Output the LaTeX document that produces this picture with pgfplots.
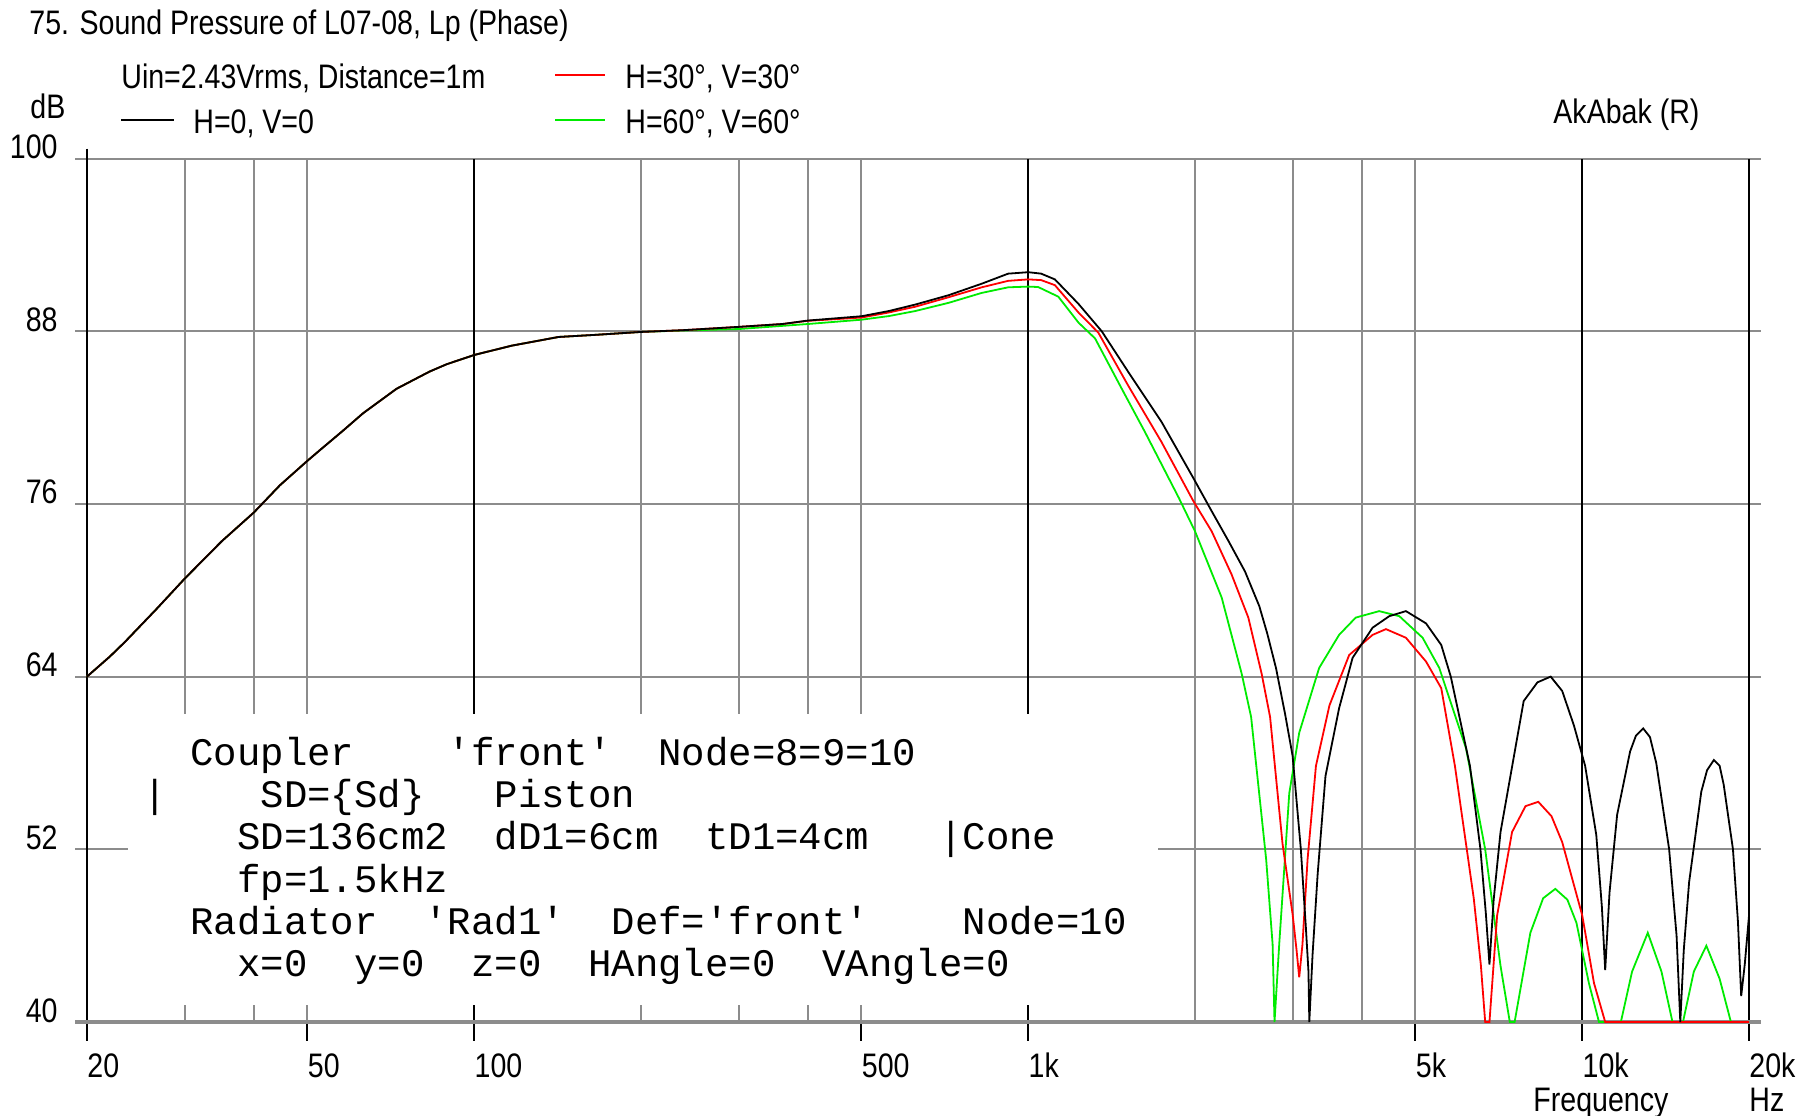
\documentclass[border=0pt]{standalone}
\usepackage{fontspec}
\setmainfont{Liberation Sans}[FakeStretch=0.84]
\setmonofont{Liberation Mono}
\usepackage{pgfplots}
\pgfplotsset{compat=1.18}

\definecolor{gridgray}{RGB}{140,140,140}
\definecolor{curvered}{RGB}{255,0,0}
\definecolor{curvegreen}{RGB}{0,235,0}

\newcommand\sanssz{\fontsize{17pt}{20pt}\selectfont}
\newcommand\monosz{\ttfamily\fontsize{19.5pt}{21pt}\selectfont}
% one word of the model listing: column, line, text
\newcommand\mt[3]{\node[anchor=base west, inner sep=0pt, font=\monosz] at ({190+23.4*#1},{349.5-42.2*#2}) {#3};}

\begin{document}
\sanssz
\begin{tikzpicture}
\path[use as bounding box] (0,0) rectangle (907pt,557.5pt);

\begin{axis}[
  at={(43.5pt,46.5pt)}, anchor=south west,
  scale only axis, width=831pt, height=431.75pt,
  xmode=log, log basis x=10,
  xmin=20, xmax=20000, ymin=40, ymax=100,
  axis line style={draw=none},
  tick style={draw=none}, major tick length=0pt, minor tick length=0pt,
  xtick={20,50,100,500,1000,5000,10000,20000},
  xticklabels={20,50,100,500,1k,5k,10k,20k},
  ytick={40,52,64,76,88,100},
  yticklabels={40,52,64,76,88,100},
  xticklabel style={anchor=base west, inner sep=0pt, yshift=-27.5pt},
  yticklabel style={anchor=base east, inner sep=0pt, xshift=-14.5pt},
  every tick label/.append style={font=\sanssz},
  clip=false,
]
% horizontal grid
\draw[gridgray, line width=1pt] (axis cs:19.03,100) -- (axis cs:21030,100);
\draw[gridgray, line width=1pt] (axis cs:19.03,88) -- (axis cs:21030,88);
\draw[gridgray, line width=1pt] (axis cs:19.03,76) -- (axis cs:21030,76);
\draw[gridgray, line width=1pt] (axis cs:19.03,64) -- (axis cs:21030,64);
\draw[gridgray, line width=1pt] (axis cs:19.03,52) -- (axis cs:21030,52);
% vertical minor grid
\draw[gridgray, line width=1pt] (axis cs:30,40) -- (axis cs:30,100);
\draw[gridgray, line width=1pt] (axis cs:40,40) -- (axis cs:40,100);
\draw[gridgray, line width=1pt] (axis cs:50,40) -- (axis cs:50,100);
\draw[gridgray, line width=1pt] (axis cs:200,40) -- (axis cs:200,100);
\draw[gridgray, line width=1pt] (axis cs:300,40) -- (axis cs:300,100);
\draw[gridgray, line width=1pt] (axis cs:400,40) -- (axis cs:400,100);
\draw[gridgray, line width=1pt] (axis cs:500,40) -- (axis cs:500,100);
\draw[gridgray, line width=1pt] (axis cs:2000,40) -- (axis cs:2000,100);
\draw[gridgray, line width=1pt] (axis cs:3000,40) -- (axis cs:3000,100);
\draw[gridgray, line width=1pt] (axis cs:4000,40) -- (axis cs:4000,100);
\draw[gridgray, line width=1pt] (axis cs:5000,40) -- (axis cs:5000,100);
% decade lines
\draw[black, line width=1pt] (axis cs:100,40) -- (axis cs:100,100);
\draw[black, line width=1pt] (axis cs:1000,40) -- (axis cs:1000,100);
\draw[black, line width=1pt] (axis cs:10000,40) -- (axis cs:10000,100);
\draw[black, line width=1pt] (axis cs:20000,40) -- (axis cs:20000,100);
% left axis line and ticks under the baseline
\draw[black, line width=1pt] ([yshift=5pt]axis cs:20,100) -- ([yshift=-9.5pt]axis cs:20,40);
\draw[black, line width=1pt] (axis cs:50,40) -- ([yshift=-9.5pt]axis cs:50,40);
\draw[black, line width=1pt] (axis cs:100,40) -- ([yshift=-9.5pt]axis cs:100,40);
\draw[black, line width=1pt] (axis cs:500,40) -- ([yshift=-9.5pt]axis cs:500,40);
\draw[black, line width=1pt] (axis cs:1000,40) -- ([yshift=-9.5pt]axis cs:1000,40);
\draw[black, line width=1pt] (axis cs:5000,40) -- ([yshift=-9.5pt]axis cs:5000,40);
\draw[black, line width=1pt] (axis cs:10000,40) -- ([yshift=-9.5pt]axis cs:10000,40);
\draw[black, line width=1pt] (axis cs:20000,40) -- ([yshift=-9.5pt]axis cs:20000,40);
% baseline
\draw[gridgray, line width=1.6pt] (axis cs:19.03,40) -- (axis cs:21030,40);

% H=60, V=60
\addplot[curvegreen, line width=0.9pt] table {
20 64.0
22 65.4
23.4 66.4
26.7 68.7
30 70.8
35 73.4
40 75.4
44.6 77.3
50 79.0
52.7 79.75
58 81.1
63 82.3
72.4 84.0
83.1 85.2
89.1 85.7
100 86.35
117 87.0
142 87.6
166 87.75
200 87.95
238 88.05
300 88.15
400 88.5
500 88.8
560 89.05
625 89.4
718 89.97
824 90.66
920 91.05
1000 91.1
1042 91.07
1133 90.4
1232 88.6
1320 87.5
1475 84.0
1624 81.0
1871 76.4
2000 74.1
2234 69.5
2428 64.2
2525 61.2
2688 51.3
2761 45.4
2783 40.0
2838 45.4
2959 55.9
3084 60.1
3350 64.6
3640 66.9
3901 68.1
4300 68.55
4675 68.2
5150 66.7
5520 64.6
6170 59.0
6680 52.0
7120 43.9
7400 40.0
7550 40.0
8060 46.2
8500 48.6
8940 49.25
9400 48.5
9760 46.9
10280 42.7
10720 40.0
11740 40.0
12300 43.5
13130 46.2
13900 43.5
14550 40.0
15200 40.0
15900 43.5
16750 45.3
17700 43.0
18550 40.0
20000 40.0
};

% H=30, V=30
\addplot[curvered, line width=0.9pt] table {
20 64.0
22 65.4
23.4 66.4
26.7 68.7
30 70.8
35 73.4
40 75.4
44.6 77.3
50 79.0
52.7 79.75
58 81.1
63 82.3
72.4 84.0
83.1 85.2
89.1 85.7
100 86.35
117 87.0
142 87.6
166 87.75
200 87.95
238 88.07
300 88.3
360 88.5
400 88.72
500 88.95
560 89.3
625 89.7
718 90.36
824 91.05
920 91.5
1000 91.6
1055 91.55
1117 91.2
1232 89.3
1338 87.9
1516 84.2
1740 80.3
1986 76.2
2143 74.1
2328 71.1
2496 68.1
2638 64.2
2732 61.2
2877 52.4
3000 47.5
3050 45.0
3084 43.1
3126 45.4
3193 51.3
3306 57.8
3497 62.0
3796 65.5
4184 66.9
4422 67.3
4805 66.7
5223 65.05
5565 63.2
5890 57.8
6370 48.6
6560 44.0
6680 40.0
6800 40.0
7020 47.4
7470 53.2
7900 55.0
8330 55.3
8800 54.3
9200 52.5
10000 47.4
10500 42.7
11000 40.0
20000 40.0
};

% H=0, V=0
\addplot[black, line width=0.9pt] table {
20 64.0
22 65.4
23.4 66.4
26.7 68.7
30 70.8
35 73.4
40 75.4
44.6 77.3
50 79.0
52.7 79.75
58 81.1
63 82.3
72.4 84.0
83.1 85.2
89.1 85.7
100 86.35
117 87.0
142 87.6
166 87.75
200 87.95
238 88.07
300 88.3
360 88.5
400 88.74
500 89.04
560 89.4
625 89.85
718 90.5
824 91.3
920 92.0
1000 92.1
1055 92.0
1117 91.6
1232 89.9
1357 88.0
1516 85.16
1740 81.7
1986 77.8
2143 75.5
2300 73.4
2462 71.3
2612 68.9
2700 67.0
2800 64.6
2908 61.4
3000 58.5
3105 52.0
3170 46.6
3205 43.5
3216 40.0
3260 44.7
3330 50.3
3440 57.1
3640 61.8
3850 65.3
4184 67.4
4484 68.2
4805 68.55
5223 67.7
5565 66.2
5790 64.0
6270 57.8
6550 52.0
6700 47.5
6800 44.0
6920 48.5
7120 53.2
7840 62.3
8300 63.6
8770 64.0
9200 63.0
9660 60.6
10120 57.8
10600 53.0
10850 48.0
11000 43.6
11200 49.0
11560 54.4
12200 58.8
12500 59.9
12880 60.4
13250 59.8
13600 58.0
14350 52.0
14800 46.0
15030 40.0
15250 45.0
15590 49.7
16400 56.0
16800 57.5
17280 58.2
17700 57.8
18000 56.5
18710 52.0
19100 47.0
19360 41.8
19650 44.0
20000 47.4
};
\end{axis}

\begin{scope}[x=0.5pt, y=0.5pt, every node/.style={inner sep=0pt, font=\sanssz}]
% titles and captions
\node[anchor=base west] at (29,1080) {75. Sound Pressure of L07-08, Lp (Phase)};
\node[anchor=base west] at (121,1026) {Uin=2.43Vrms, Distance=1m};
\node[anchor=base west] at (193,981) {H=0, V=0};
\node[anchor=base west] at (625,1026) {H=30°, V=30°};
\node[anchor=base west] at (625,981) {H=60°, V=60°};
\node[anchor=base west] at (30,996) {dB};
\node[anchor=base west] at (1553,991) {AkAbak (R)};
\node[anchor=base west] at (1533,4) {Frequency};
\node[anchor=base west] at (1749,4) {Hz};
% legend keys
\draw[black, line width=0.9pt] (121,995) -- (174,995);
\draw[curvered, line width=0.9pt] (555,1040) -- (605,1040);
\draw[curvegreen, line width=0.9pt] (555,995) -- (605,995);

% model listing
\fill[white] (128,110) rectangle (1158,401);
\mt{0}{0}{Coupler}
\mt{11}{0}{'front'}
\mt{20}{0}{Node=8=9=10}
\mt{-2}{1}{|}
\mt{3}{1}{SD=\{Sd\}}
\mt{13}{1}{Piston}
\mt{2}{2}{SD=136cm2}
\mt{13}{2}{dD1=6cm}
\mt{22}{2}{tD1=4cm}
\mt{32}{2}{|Cone}
\mt{2}{3}{fp=1.5kHz}
\mt{0}{4}{Radiator}
\mt{10}{4}{'Rad1'}
\mt{18}{4}{Def='front'}
\mt{33}{4}{Node=10}
\mt{2}{5}{x=0}
\mt{7}{5}{y=0}
\mt{12}{5}{z=0}
\mt{17}{5}{HAngle=0}
\mt{27}{5}{VAngle=0}
\end{scope}
\end{tikzpicture}
\end{document}
